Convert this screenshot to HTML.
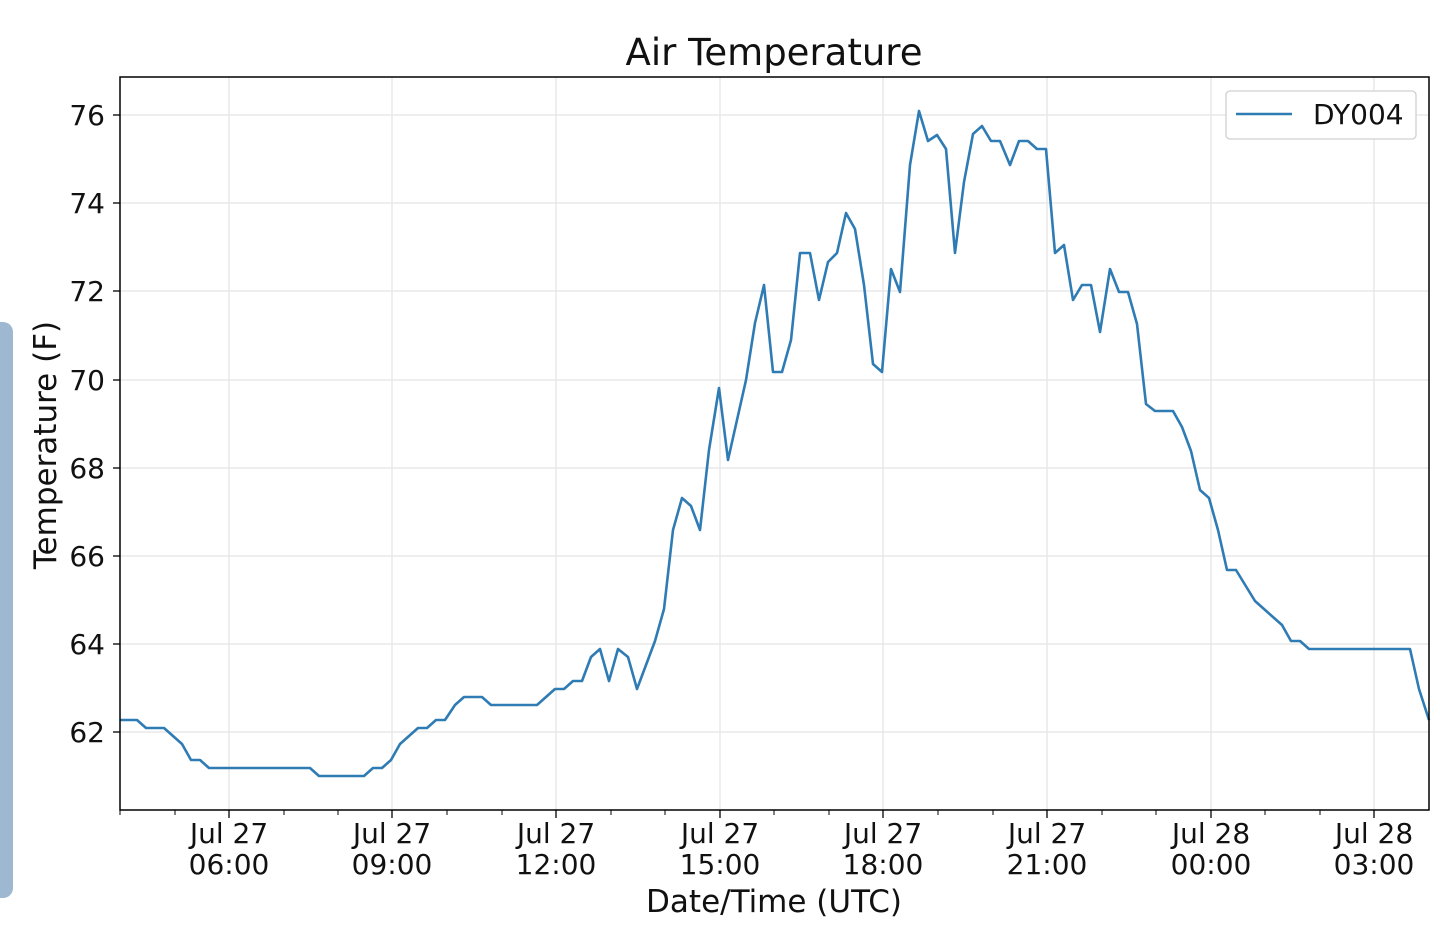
<!DOCTYPE html>
<html><head><meta charset="utf-8"><style>
body{margin:0;background:#fff;width:1440px;height:938px;overflow:hidden;position:relative;font-family:"DejaVu Sans","Liberation Sans",sans-serif}
.panel{position:absolute;left:0;top:322px;width:13px;height:576px;background:#9fb8d1;border-radius:0 10px 10px 0}
</style></head><body>
<div class="panel"></div>
<svg width="1440" height="938" style="position:absolute;left:0;top:0" font-family="DejaVu Sans, Liberation Sans, sans-serif">
<g stroke="#e8e8e8" stroke-width="1.5">
<line x1="120" x2="1429" y1="115" y2="115"/><line x1="120" x2="1429" y1="203" y2="203"/><line x1="120" x2="1429" y1="291" y2="291"/><line x1="120" x2="1429" y1="380" y2="380"/><line x1="120" x2="1429" y1="468" y2="468"/><line x1="120" x2="1429" y1="556" y2="556"/><line x1="120" x2="1429" y1="644" y2="644"/><line x1="120" x2="1429" y1="732" y2="732"/>
<line y1="77" y2="810" x1="229" x2="229"/><line y1="77" y2="810" x1="392" x2="392"/><line y1="77" y2="810" x1="556" x2="556"/><line y1="77" y2="810" x1="720" x2="720"/><line y1="77" y2="810" x1="883" x2="883"/><line y1="77" y2="810" x1="1047" x2="1047"/><line y1="77" y2="810" x1="1211" x2="1211"/><line y1="77" y2="810" x1="1374" x2="1374"/>
</g>
<polyline fill="none" stroke="#2f7bb4" stroke-width="2.6" stroke-linejoin="round" points="120,720 137,720 146,728 164,728 182,744 191,760 200,760 209,768 310,768 319,776 364,776 373,768 382,768 391,760 400,744 418,728 427,728 436,720 445,720 455,705 464,697 482,697 491,705 537,705 555,689 564,689 573,681 582,681 591,657 600,649 609,681 618,649 628,657 637,689 655,641 664,609 673,530 682,498 691,506 700,530 709,450 719,388 728,460 746,380 755,323 764,285 773,372 782,372 791,340 800,253 810,253 819,300 828,262 837,253 846,213 855,229 864,285 873,364 882,372 891,269 900,292 910,165 919,111 928,141 937,135 946,149 955,253 964,182 973,134 982,126 991,141 1000,141 1010,165 1019,141 1028,141 1037,149 1046,149 1055,253 1064,245 1073,300 1082,285 1091,285 1100,332 1110,269 1119,292 1128,292 1137,324 1146,404 1155,411 1173,411 1182,427 1191,451 1200,490 1209,498 1218,530 1227,570 1236,570 1255,601 1282,625 1291,641 1300,641 1309,649 1410,649 1419,689 1429,720"/>
<rect x="120" y="77" width="1309" height="733" fill="none" stroke="#000" stroke-width="1.5"/>
<g stroke="#000" stroke-width="1.3">
<line x1="113" x2="120" y1="115" y2="115"/><line x1="113" x2="120" y1="203" y2="203"/><line x1="113" x2="120" y1="291" y2="291"/><line x1="113" x2="120" y1="380" y2="380"/><line x1="113" x2="120" y1="468" y2="468"/><line x1="113" x2="120" y1="556" y2="556"/><line x1="113" x2="120" y1="644" y2="644"/><line x1="113" x2="120" y1="732" y2="732"/>
<line y1="810" y2="818" x1="229" x2="229"/><line y1="810" y2="818" x1="392" x2="392"/><line y1="810" y2="818" x1="556" x2="556"/><line y1="810" y2="818" x1="720" x2="720"/><line y1="810" y2="818" x1="883" x2="883"/><line y1="810" y2="818" x1="1047" x2="1047"/><line y1="810" y2="818" x1="1211" x2="1211"/><line y1="810" y2="818" x1="1374" x2="1374"/>
</g>
<g stroke="#000" stroke-width="1">
<line y1="810" y2="815" x1="120" x2="120"/><line y1="810" y2="815" x1="175" x2="175"/>
<line y1="810" y2="815" x1="284" x2="284"/><line y1="810" y2="815" x1="338" x2="338"/>
<line y1="810" y2="815" x1="447" x2="447"/><line y1="810" y2="815" x1="502" x2="502"/>
<line y1="810" y2="815" x1="611" x2="611"/><line y1="810" y2="815" x1="665" x2="665"/>
<line y1="810" y2="815" x1="774" x2="774"/><line y1="810" y2="815" x1="829" x2="829"/>
<line y1="810" y2="815" x1="938" x2="938"/><line y1="810" y2="815" x1="993" x2="993"/>
<line y1="810" y2="815" x1="1102" x2="1102"/><line y1="810" y2="815" x1="1156" x2="1156"/>
<line y1="810" y2="815" x1="1265" x2="1265"/><line y1="810" y2="815" x1="1320" x2="1320"/>
</g>
<g font-size="28" fill="#111" text-anchor="end">
<text x="105" y="125">76</text><text x="105" y="213">74</text><text x="105" y="301">72</text><text x="105" y="390">70</text><text x="105" y="478">68</text><text x="105" y="566">66</text><text x="105" y="654">64</text><text x="105" y="742">62</text>
</g>
<g font-size="28" fill="#111" text-anchor="middle">
<text x="229" y="843">Jul 27</text><text x="229" y="874">06:00</text>
<text x="392" y="843">Jul 27</text><text x="392" y="874">09:00</text>
<text x="556" y="843">Jul 27</text><text x="556" y="874">12:00</text>
<text x="720" y="843">Jul 27</text><text x="720" y="874">15:00</text>
<text x="883" y="843">Jul 27</text><text x="883" y="874">18:00</text>
<text x="1047" y="843">Jul 27</text><text x="1047" y="874">21:00</text>
<text x="1211" y="843">Jul 28</text><text x="1211" y="874">00:00</text>
<text x="1374" y="843">Jul 28</text><text x="1374" y="874">03:00</text>
<text x="774" y="912" font-size="31">Date/Time (UTC)</text>
<text x="774" y="65" font-size="37">Air Temperature</text>
<text x="0" y="0" font-size="31" transform="translate(56,445) rotate(-90)">Temperature (F)</text>
</g>
<rect x="1226" y="91" width="190" height="48" rx="4" fill="#fff" stroke="#d0d0d0" stroke-width="1.3"/>
<line x1="1236" x2="1292" y1="114" y2="114" stroke="#2f7bb4" stroke-width="2.6"/>
<text x="1313" y="124" font-size="28" fill="#111">DY004</text>
</svg>
</body></html>
